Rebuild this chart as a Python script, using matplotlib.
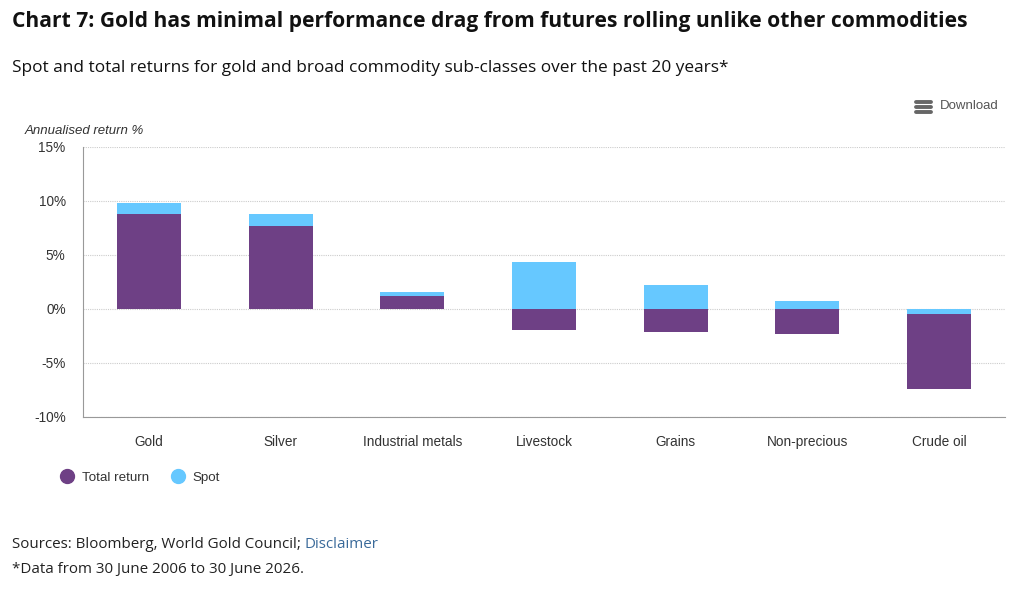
import matplotlib
matplotlib.use("Agg")
import matplotlib.pyplot as plt
from matplotlib.lines import Line2D
import numpy as np

# chart data (annualised return %)
categories = ["Gold", "Silver", "Industrial metals", "Livestock", "Grains", "Non-precious", "Crude oil"]
total_return = [8.8, 7.7, 1.2, -1.95, -2.1, -2.3, -7.4]
spot = [9.8, 8.8, 1.6, 4.35, 2.2, 0.75, -0.45]
yticks = [-10, -5, 0, 5, 10, 15]

purple = "#6e4085"
blue = "#66c8ff"
W, H = 1024, 590

fig = plt.figure(figsize=(W / 100, H / 100), dpi=100)
fig.patch.set_facecolor("white")

# plot area in pixels: x 83..1005, y 147..417
ax = fig.add_axes([83 / W, (H - 417) / H, 922 / W, 270 / H])

x = np.arange(len(categories))
bw = 0.485
for i in x:
    t, s = total_return[i], spot[i]
    # the smaller bar sits in front of the bigger one
    if abs(s) >= abs(t):
        ax.bar(i, s, bw, color=blue, zorder=2, linewidth=0)
        ax.bar(i, t, bw, color=purple, zorder=3, linewidth=0)
    else:
        ax.bar(i, t, bw, color=purple, zorder=2, linewidth=0)
        ax.bar(i, s, bw, color=blue, zorder=3, linewidth=0)

ax.set_xlim(-0.5, len(categories) - 0.5)
ax.set_ylim(-10, 15)
ax.set_yticks(yticks)
ax.set_yticklabels([f"{v}%" for v in yticks])
ax.yaxis.grid(True, color="#cccccc", linestyle=(0, (1, 1)), linewidth=0.8, zorder=0)
ax.set_axisbelow(True)

ax.set_xticks(x)
ax.set_xticklabels(categories)
ax.tick_params(axis="both", length=0, labelsize=9.8, labelcolor="#333333")
ax.tick_params(axis="x", pad=13)
ax.tick_params(axis="y", pad=12.5)
for lab in ax.get_xticklabels() + ax.get_yticklabels():
    lab.set_fontfamily("Liberation Sans")

for side in ["top", "right"]:
    ax.spines[side].set_visible(False)
ax.spines["left"].set_color("#999999")
ax.spines["bottom"].set_color("#999999")
ax.spines["left"].set_linewidth(0.8)
ax.spines["bottom"].set_linewidth(0.8)

# y axis title
fig.text(25 / W, 1 - 131 / H, "Annualised return %", fontsize=9.5, style="italic",
         color="#333333", family="Liberation Sans", va="center", ha="left")

# legend
handles = [
    Line2D([], [], marker="o", linestyle="", markersize=10, color=purple, label="Total return"),
    Line2D([], [], marker="o", linestyle="", markersize=10, color=blue, label="Spot"),
]
fig.legend(handles=handles, loc="center left", bbox_to_anchor=(47 / W, 1 - 478 / H), ncol=2,
           frameon=False, handletextpad=0.5, columnspacing=1.6, handlelength=1.2,
           prop={"family": "Liberation Sans", "size": 9.6}, labelcolor="#333333")

# titles and notes
fig.text(12 / W, 1 - 21 / H, "Chart 7: Gold has minimal performance drag from futures rolling unlike other commodities",
         fontsize=15.1, fontweight="bold", family="Open Sans", color="#111111", va="center", ha="left")
fig.text(12 / W, 1 - 68 / H, "Spot and total returns for gold and broad commodity sub-classes over the past 20 years*",
         fontsize=12.4, family="Open Sans", color="#111111", va="center", ha="left")

src = fig.text(12 / W, 1 - 544 / H, "Sources: Bloomberg, World Gold Council; ",
               fontsize=10.9, family="Open Sans", color="#222222", va="center", ha="left")
fig.canvas.draw()
bb = src.get_window_extent()
fig.text(bb.x1 / W, 1 - 544 / H, "Disclaimer", fontsize=10.9, family="Open Sans",
         color="#3a6a9a", va="center", ha="left")
fig.text(12 / W, 1 - 570 / H, "*Data from 30 June 2006 to 30 June 2026.",
         fontsize=10.9, family="Open Sans", color="#222222", va="center", ha="left")

# download button
for dy in [101.5, 107, 112.5]:
    fig.add_artist(Line2D([916 / W, 931 / W], [1 - dy / H, 1 - dy / H], color="#666666",
                          linewidth=2.8, solid_capstyle="round"))
fig.text(940 / W, 1 - 106 / H, "Download", fontsize=9.5, family="Liberation Sans",
         color="#555555", va="center", ha="left")

fig.savefig("out.png", dpi=100)
